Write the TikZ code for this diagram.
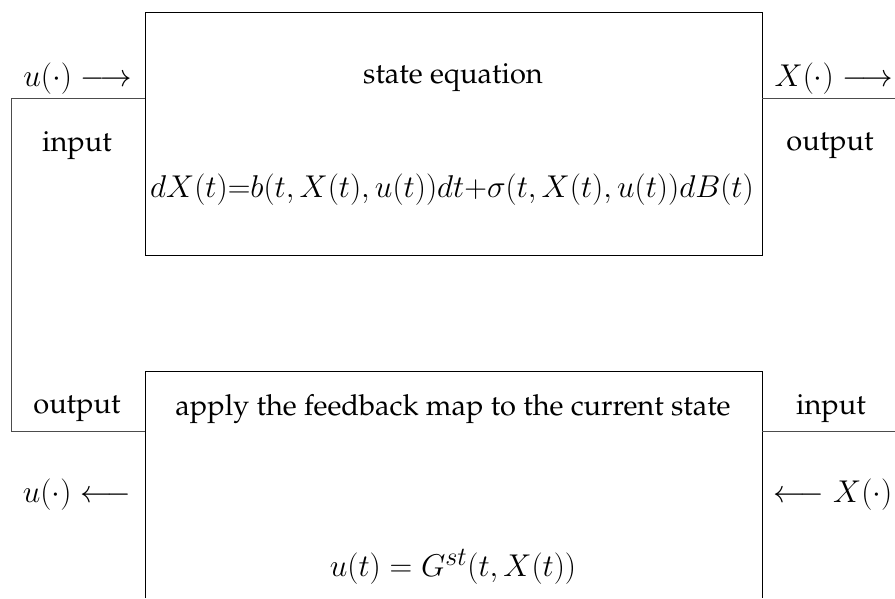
\documentclass[tikz,border=0pt]{standalone}
\usepackage[T1]{fontenc}
\renewcommand{\rmdefault}{ppl}
\usetikzlibrary{calc}
\begin{document}
\begin{tikzpicture}[x=1pt,y=-1pt,
  every node/.style={inner sep=0pt, anchor=center},
  txt/.style={font=\fontsize{29}{34}\selectfont},
  mth/.style={font=\fontsize{24.88}{30}\selectfont, scale=1.266},
  wire/.style={line width=1pt, draw=black!70},
  frame/.style={line width=1pt, draw=black}]
\useasboundingbox (0,0) rectangle (895,598);
% boxes
\coordinate (t1) at (145,12);
\coordinate (t2) at (762,255);
\coordinate (b1) at (145,371);
\coordinate (b2) at (762,598);
\draw[frame] (t1) rectangle (t2);
\draw[frame] (b1 |- 0,598) -- (b1) -- (b2 |- b1) -- (b2);
% wires
\coordinate (la) at (145,98);
\coordinate (lc) at (11,98);
\coordinate (ld) at (11,431);
\coordinate (lb) at (145,431);
\coordinate (ra) at (762,98);
\coordinate (re) at (895,98);
\coordinate (rb) at (762,431);
\coordinate (rf) at (895,431);
\draw[wire] (la) -- (lc) -- (ld) -- (lb);
\draw[wire] (ra) -- (re);
\draw[wire] (rb) -- (rf);
% texts
\node[mth] (uin) at (77.5,79) {$u(\cdot)\longrightarrow$};
\node[txt] (inl) at (77,146) {input};
\node[txt] (se) at (453,78) {state equation};
\node[mth] (eq) at (452,190) {$dX(t){=}b(t,X(t),u(t))dt{+}\sigma(t,X(t),u(t))dB(t)$};
\node[mth] (xout) at (834,79) {$X(\cdot)\longrightarrow$};
\node[txt] (outr) at (830,146) {output};
\node[txt] (outl) at (77,409) {output};
\node[txt] (fb) at (453,409) {apply the feedback map to the current state};
\node[txt] (inr) at (831,409) {input};
\node[mth] (uout) at (77,495) {$u(\cdot)\longleftarrow$};
\node[mth] (xin) at (833,495) {$\longleftarrow X(\cdot)$};
\node[mth] (g) at (453,567) {$u(t)=G^{st}(t,X(t))$};
\end{tikzpicture}
\end{document}
